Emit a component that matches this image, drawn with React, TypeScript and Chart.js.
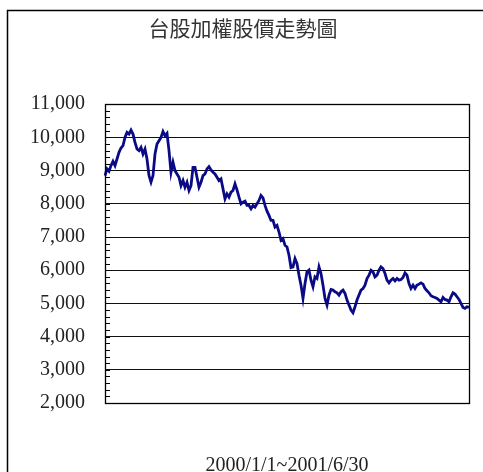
import React, { useEffect, useRef } from "react";
import { Chart, registerables } from "chart.js";

Chart.register(...registerables);

const chartTitle = "台股加權股價走勢圖";
const xAxisTitle = "2000/1/1~2001/6/30";
const yMin = 2000;
const yMax = 11000;
const yMajorStep = 1000;
const yMinorStep = 200;

// TAIEX closing levels, roughly every few trading days, 2000/1/1 – 2001/6/30
const indexValues: number[] = [
  8850, 9050, 8980, 9150, 9280, 9150, 9350, 9550, 9680, 9750,
  10000, 10150, 10100, 10220, 10100, 9850, 9650, 9600, 9700, 9500,
  9650, 9350, 8850, 8650, 8850, 9500, 9800, 9900, 10000, 10180,
  10050, 10120, 9600, 8950, 9250, 9000, 8900, 8800, 8550, 8700,
  8500, 8650, 8400, 8550, 9100, 9100, 8800, 8500, 8650, 8850,
  8900, 9050, 9120, 9020, 8950, 8900, 8800, 8700, 8750, 8450,
  8150, 8300, 8200, 8350, 8400, 8600, 8420, 8200, 8000, 8050,
  8080, 7950, 7950, 7850, 7950, 7900, 8000, 8100, 8250, 8180,
  7950, 7780, 7650, 7500, 7500, 7300, 7350, 7150, 6900, 6950,
  6750, 6700, 6450, 6080, 6100, 6350, 6200, 5850, 5550, 5150,
  5600, 5950, 6000, 5700, 5500, 5800, 5750, 6100, 5900, 5550,
  5150, 4950, 5250, 5420, 5400, 5350, 5320, 5250, 5350, 5400,
  5300, 5100, 4950, 4800, 4720, 4900, 5100, 5250, 5400, 5450,
  5550, 5750, 5850, 6000, 5950, 5800, 5850, 6000, 6100, 6050,
  5900, 5700, 5620, 5700, 5750, 5680, 5750, 5700, 5720, 5780,
  5920, 5850, 5600, 5450, 5550, 5450, 5550, 5580, 5620, 5580,
  5450, 5380, 5320, 5230, 5200, 5180, 5150, 5100, 5050, 5180,
  5120, 5100, 5050, 5200, 5320, 5280, 5200, 5120, 5000, 4880,
  4850, 4900, 4880,
];

const pointLabels: string[] = indexValues.map((_, i) => String(i));

const framePlugin = {
  id: "frameAndMinorTicks",
  beforeDraw(chart: any) {
    const ctx = chart.ctx;
    ctx.save();
    ctx.fillStyle = "#ffffff";
    ctx.fillRect(0, 0, chart.width, chart.height);
    ctx.strokeStyle = "#000000";
    ctx.lineWidth = 1.5;
    ctx.beginPath();
    ctx.moveTo(7.5, chart.height + 2);
    ctx.lineTo(7.5, 10.5);
    ctx.lineTo(chart.width + 2, 10.5);
    ctx.stroke();
    ctx.restore();
  },
  afterDatasetsDraw(chart: any) {
    const { ctx, chartArea } = chart;
    const y = chart.scales.y;
    ctx.save();
    ctx.strokeStyle = "#000000";
    ctx.lineWidth = 1;
    ctx.beginPath();
    for (let v = yMin; v <= yMax; v += yMinorStep) {
      const py = Math.round(y.getPixelForValue(v)) + 0.5;
      ctx.moveTo(chartArea.left, py);
      ctx.lineTo(chartArea.left + 5, py);
    }
    ctx.stroke();
    ctx.lineWidth = 1.3;
    ctx.strokeRect(
      Math.round(chartArea.left) + 0.5,
      Math.round(chartArea.top) + 0.5,
      Math.round(chartArea.right - chartArea.left),
      Math.round(chartArea.bottom - chartArea.top)
    );
    ctx.restore();
  },
};

export default function App() {
  const canvasRef = useRef<HTMLCanvasElement | null>(null);

  useEffect(() => {
    if (!canvasRef.current) return;
    const chart = new Chart(canvasRef.current, {
      type: "line",
      data: {
        labels: pointLabels,
        datasets: [
          {
            data: indexValues,
            borderColor: "#0a0a86",
            borderWidth: 2.8,
            pointRadius: 0,
            tension: 0,
            fill: false,
          },
        ],
      },
      options: {
        animation: false,
        responsive: false,
        maintainAspectRatio: false,
        layout: { padding: { left: 17, right: 14, top: 0, bottom: 0 } },
        plugins: {
          legend: { display: false },
          tooltip: { enabled: false },
          title: {
            display: true,
            text: chartTitle,
            color: "#333333",
            font: { family: "'Noto Sans CJK TC', 'Noto Sans', sans-serif", size: 21, weight: "normal", lineHeight: 1.2 },
            padding: { top: 15, bottom: 64 },
          },
        },
        scales: {
          x: {
            type: "category",
            offset: false,
            grid: { display: false, drawTicks: false },
            border: { display: false },
            ticks: { display: false },
            title: {
              display: true,
              text: xAxisTitle,
              color: "#222222",
              font: { family: "'Liberation Serif', 'DejaVu Serif', serif", size: 20, lineHeight: 0.6 },
              padding: { top: 0, bottom: 0 },
            },
            afterFit(scale: any) {
              scale.height = 69;
            },
          },
          y: {
            min: yMin,
            max: yMax,
            border: { display: false },
            grid: {
              drawTicks: false,
              lineWidth: 1,
              color: (c: any) =>
                c.tick && c.tick.value % yMajorStep === 0 ? "#111111" : "rgba(0,0,0,0)",
            },
            ticks: {
              stepSize: yMinorStep,
              autoSkip: false,
              padding: 20,
              color: "#222222",
              font: { family: "'Liberation Serif', 'DejaVu Serif', serif", size: 20 },
              callback: (v: any) =>
                Number(v) % yMajorStep === 0 ? Number(v).toLocaleString("en-US") : "",
            },
            afterFit(scale: any) {
              scale.width = 88;
            },
          },
        },
      },
      plugins: [framePlugin],
    });
    return () => chart.destroy();
  }, []);

  return (
    <div style={{ position: "fixed", left: 0, top: 0, width: 483, height: 472, background: "#fff" }}>
      <canvas ref={canvasRef} width={483} height={472} style={{ display: "block" }} />
    </div>
  );
}
